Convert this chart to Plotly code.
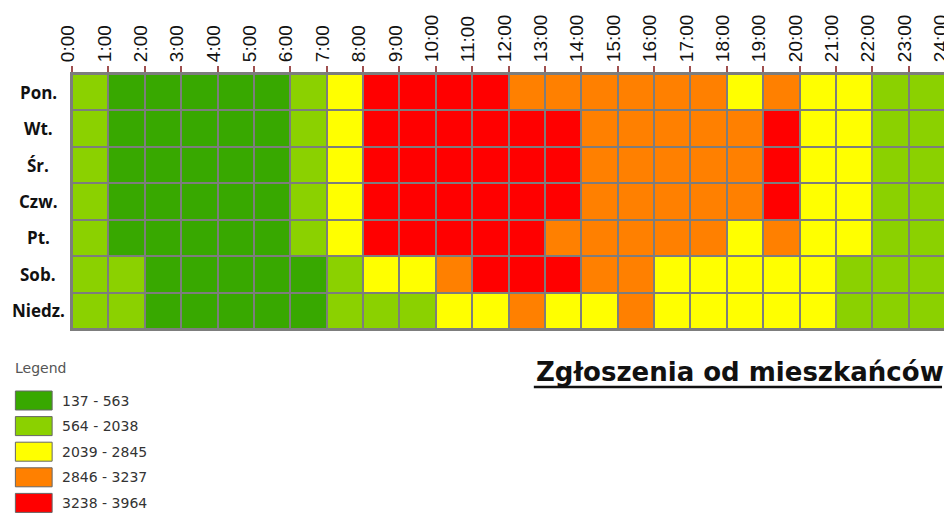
import plotly.graph_objects as go

days = ["Pon.", "Wt.", "Śr.", "Czw.", "Pt.", "Sob.", "Niedz."]
hour_labels = [f"{h}:00" for h in range(25)]
hour_edges = list(range(25))
hour_centers = [h + 0.5 for h in range(24)]

# class codes (1..5), per day, hours 0..23
pon = [2, 1, 1, 1, 1, 1, 2, 3, 5, 5, 5, 5, 4, 4, 4, 4, 4, 4, 3, 4, 3, 3, 2, 2]
wt = [2, 1, 1, 1, 1, 1, 2, 3, 5, 5, 5, 5, 5, 5, 4, 4, 4, 4, 4, 5, 3, 3, 2, 2]
sr = [2, 1, 1, 1, 1, 1, 2, 3, 5, 5, 5, 5, 5, 5, 4, 4, 4, 4, 4, 5, 3, 3, 2, 2]
czw = [2, 1, 1, 1, 1, 1, 2, 3, 5, 5, 5, 5, 5, 5, 4, 4, 4, 4, 4, 5, 3, 3, 2, 2]
pt = [2, 1, 1, 1, 1, 1, 2, 3, 5, 5, 5, 5, 5, 4, 4, 4, 4, 4, 3, 4, 3, 3, 2, 2]
sob = [2, 2, 1, 1, 1, 1, 1, 2, 3, 3, 4, 5, 5, 5, 4, 4, 3, 3, 3, 3, 3, 2, 2, 2]
niedz = [2, 2, 1, 1, 1, 1, 1, 2, 2, 2, 3, 3, 4, 3, 3, 4, 3, 3, 3, 3, 3, 2, 2, 2]

legend_labels = ["137 - 563", "564 - 2038", "2039 - 2845", "2846 - 3237", "3238 - 3964"]
class_colors = ["#38a800", "#8bd100", "#ffff00", "#ff8000", "#ff0000"]
title_text = "Zgłoszenia od mieszkańców"

z = [pon, wt, sr, czw, pt, sob, niedz]
n = len(class_colors)
colorscale = []
for i, c in enumerate(class_colors):
    colorscale.append([i / n, c])
    colorscale.append([(i + 1) / n, c])

fig = go.Figure(go.Heatmap(
    z=z, x=hour_centers, y=days,
    colorscale=colorscale, zmin=0.5, zmax=n + 0.5,
    showscale=False, xgap=2, ygap=2, hoverongaps=False,
))

# page body has an 8px margin; work in window pixels and subtract it
OFF = 8
W, H = 952 - OFF, 513 - OFF
L, R, T, B = 72 - OFF, 951 - OFF, 74 - OFF, 329 - OFF
PW, PH = R - L, B - T

def px(x):
    return (x - OFF - L) / PW

def py(y):
    return (B - (y - OFF)) / PH

fig.update_layout(
    width=W, height=H,
    margin=dict(l=L, r=W - R, t=T, b=H - B, pad=0),
    plot_bgcolor="#7d7d7d", paper_bgcolor="white",
    xaxis=dict(
        side="top", range=[0, 24], tickmode="array",
        tickvals=hour_edges, ticktext=hour_labels, tickangle=-90,
        ticks="outside", ticklen=6, tickwidth=1.5, tickcolor="#a05050",
        ticklabeloverflow="allow", ticklabelshift=-4,
        tickfont=dict(family="Liberation Sans", size=19, color="#111"),
        showgrid=False, zeroline=False, showline=True, linecolor="#7d7d7d",
        linewidth=2, mirror=True,
    ),
    yaxis=dict(
        autorange="reversed", showticklabels=False, ticks="",
        showgrid=False, zeroline=False, showline=True, linecolor="#7d7d7d",
        linewidth=2, mirror=True,
    ),
    font=dict(family="Liberation Sans"),
)
fig.update_xaxes(tickprefix="<b>", ticksuffix="</b>")

annotations = []
for d in days:
    annotations.append(dict(
        x=px(38), xref="paper", y=d, yref="y", text=f"<b>{d}</b>",
        showarrow=False, xanchor="center", yanchor="middle",
        font=dict(family="Open Sans", size=17, color="#111"),
    ))

annotations.append(dict(
    x=px(13), y=py(368), xref="paper", yref="paper", text="Legend",
    showarrow=False, xanchor="left", yanchor="middle",
    font=dict(family="DejaVu Sans", size=14, color="#555"),
))
shapes = []
for i, (lab, col) in enumerate(zip(legend_labels, class_colors)):
    y0 = 391 + i * 25.6
    y1 = y0 + 19
    shapes.append(dict(
        type="rect", xref="paper", yref="paper",
        x0=px(15), x1=px(52), y0=py(y1), y1=py(y0),
        fillcolor=col, line=dict(color="#666", width=1),
    ))
    annotations.append(dict(
        x=px(60), y=py((y0 + y1) / 2), xref="paper", yref="paper", text=lab,
        showarrow=False, xanchor="left", yanchor="middle",
        font=dict(family="DejaVu Sans", size=14, color="#333"),
    ))

annotations.append(dict(
    x=px(537), y=py(372), xref="paper", yref="paper", text=f"<b>{title_text}</b>",
    showarrow=False, xanchor="left", yanchor="middle",
    font=dict(family="DejaVu Sans", size=26, color="#111"),
))
shapes.append(dict(
    type="line", xref="paper", yref="paper",
    x0=px(537), x1=px(948), y0=py(387), y1=py(387),
    line=dict(color="#111", width=2.5),
))

fig.update_layout(annotations=annotations, shapes=shapes)
fig.write_html("out.html")
